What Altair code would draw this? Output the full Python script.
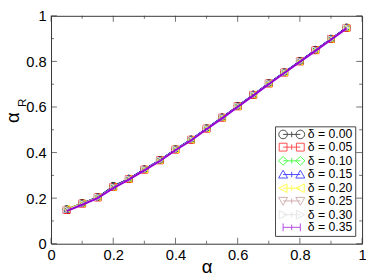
import altair as alt
import pandas as pd

# ---------------- data ----------------
alpha = [0.05, 0.10, 0.15, 0.20, 0.25, 0.30, 0.35, 0.40, 0.45, 0.50,
         0.55, 0.60, 0.65, 0.70, 0.75, 0.80, 0.85, 0.90, 0.95]

series_labels = ["δ = 0.00", "δ = 0.05", "δ = 0.10", "δ = 0.15",
                 "δ = 0.20", "δ = 0.25", "δ = 0.30", "δ = 0.35"]

ar_000 = [0.152, 0.179, 0.205, 0.254, 0.286, 0.327, 0.368, 0.415, 0.458, 0.507,
          0.555, 0.605, 0.655, 0.705, 0.753, 0.802, 0.851, 0.900, 0.949]
ar_005 = [0.148, 0.176, 0.203, 0.249, 0.284, 0.325, 0.366, 0.413, 0.456, 0.505,
          0.553, 0.603, 0.653, 0.703, 0.751, 0.800, 0.849, 0.898, 0.947]
ar_010 = [0.150, 0.177, 0.204, 0.250, 0.285, 0.326, 0.367, 0.414, 0.457, 0.506,
          0.554, 0.604, 0.654, 0.704, 0.752, 0.801, 0.850, 0.899, 0.948]
ar_015 = [0.151, 0.178, 0.206, 0.251, 0.287, 0.328, 0.369, 0.416, 0.459, 0.508,
          0.556, 0.606, 0.656, 0.706, 0.754, 0.803, 0.852, 0.901, 0.950]
ar_020 = [0.153, 0.177, 0.204, 0.248, 0.284, 0.325, 0.366, 0.413, 0.456, 0.505,
          0.553, 0.603, 0.653, 0.703, 0.751, 0.800, 0.849, 0.898, 0.947]
ar_025 = [0.147, 0.174, 0.202, 0.247, 0.283, 0.324, 0.365, 0.412, 0.455, 0.504,
          0.552, 0.602, 0.652, 0.702, 0.750, 0.799, 0.848, 0.897, 0.946]
ar_030 = [0.149, 0.176, 0.203, 0.249, 0.284, 0.325, 0.366, 0.413, 0.456, 0.505,
          0.553, 0.603, 0.653, 0.703, 0.751, 0.800, 0.849, 0.898, 0.947]
ar_035 = [0.143, 0.171, 0.200, 0.244, 0.281, 0.322, 0.363, 0.410, 0.453, 0.502,
          0.550, 0.600, 0.650, 0.700, 0.749, 0.798, 0.846, 0.895, 0.945]

series_values = [ar_000, ar_005, ar_010, ar_015, ar_020, ar_025, ar_030, ar_035]

axis_values = [0, 0.2, 0.4, 0.6, 0.8, 1]
minor_values = [0.1, 0.3, 0.5, 0.7, 0.9]

# ---------------- style ----------------
colors = ["#000000", "#ff0000", "#00ff00", "#0000ff",
          "#ffff00", "#bc8f8f", "#dcdcdc", "#9400d3"]
shapes = ["circle", "square", "diamond", "triangle-up",
          "triangle-left", "triangle-down", "triangle-right", "bar"]
FONT = "Liberation Sans"
FRAME = "#333333"
W, H = 318, 233


def marker_path(kind, cx):
    r = 1.1
    if kind == "circle":
        return (f"M{cx - r},0A{r},{r},0,1,0,{cx + r},0"
                f"A{r},{r},0,1,0,{cx - r},0Z")
    if kind == "square":
        return f"M{cx - 1},-1H{cx + 1}V1H{cx - 1}Z"
    if kind == "diamond":
        return f"M{cx - 1.2},0L{cx},-1.1L{cx + 1.2},0L{cx},1.1Z"
    if kind == "triangle-up":
        return f"M{cx - 1.15},0.9L{cx},-1.1L{cx + 1.15},0.9Z"
    if kind == "triangle-down":
        return f"M{cx - 1.15},-0.9L{cx},1.1L{cx + 1.15},-0.9Z"
    if kind == "triangle-left":
        return f"M{cx - 1.1},0L{cx + 1},-1.1L{cx + 1},1.1Z"
    if kind == "triangle-right":
        return f"M{cx + 1.1},0L{cx - 1},-1.1L{cx - 1},1.1Z"
    return f"M{cx},-1V1"


def legend_path(kind):
    gap = 4.4
    body = f"M0,0H{gap}M{gap / 2},-0.7V0.7"
    return marker_path(kind, 0) + marker_path(kind, gap) + body


legend_paths = [legend_path(k) for k in shapes]

rows = []
for lab, vals, col, shp in zip(series_labels, series_values, colors, shapes):
    for a, v in zip(alpha, vals):
        rows.append({"series": lab, "alpha": a, "alpha_R": v, "col": col, "shp": shp})
df = pd.DataFrame(rows)
df_marked = df[df["shp"] != "bar"]
df_others = df[df["series"] != series_labels[-1]]
df_last = df[df["series"] == series_labels[-1]]

xscale = alt.Scale(domain=[0, 1], nice=False, zero=False)
yscale = alt.Scale(domain=[0, 1], nice=False, zero=False)

xaxis = alt.Axis(values=axis_values, format="~g", ticks=False, tickSize=0,
                 domain=False, grid=False, labelFont=FONT, labelFontSize=15,
                 labelColor="black", labelPadding=4, labelFlush=False,
                 title="α", titleFont=FONT, titleFontSize=19,
                 titleFontWeight="normal", titleColor="black",
                 titleY=29, titleBaseline="alphabetic")
yaxis = alt.Axis(values=axis_values, format="~g", ticks=False, tickSize=0,
                 domain=False, grid=False, labelFont=FONT, labelFontSize=15,
                 labelColor="black", labelPadding=5, labelFlush=False,
                 title="α", titleFont=FONT, titleFontSize=19,
                 titleFontWeight="normal", titleColor="black",
                 titleAngle=270, titleX=-33, titleY=103.5,
                 titleAlign="center", titleBaseline="alphabetic")

X = alt.X("alpha:Q", scale=xscale, axis=xaxis)
Y = alt.Y("alpha_R:Q", scale=yscale, axis=yaxis)

lines_others = alt.Chart(df_others).mark_line(strokeWidth=1).encode(
    x=X, y=Y, detail="series:N",
    color=alt.Color("col:N", scale=None),
)

points = alt.Chart(df_marked).mark_point(filled=False, size=50, strokeWidth=1, opacity=1).encode(
    x=X, y=Y,
    color=alt.Color("col:N", scale=None),
    shape=alt.Shape("shp:N", scale=None),
)

line_last = alt.Chart(df_last).mark_line(strokeWidth=2, color=colors[-1]).encode(x=X, y=Y)

legend = alt.Legend(
    orient="none", legendX=229, legendY=113, title=None, padding=2,
    strokeColor="#444444", fillColor="white", labelFont=FONT, labelFontSize=12.5,
    labelColor="black", labelOffset=19, symbolSize=64, symbolStrokeWidth=1,
    rowPadding=0, labelExpr="datum.label + '\u00a0\u00a0\u00a0'",
)
carrier = alt.Chart(df).mark_point(filled=False).encode(
    x=X, y=Y,
    color=alt.Color("series:N", scale=alt.Scale(domain=series_labels, range=colors), legend=legend),
    shape=alt.Shape("series:N", scale=alt.Scale(domain=series_labels, range=legend_paths), legend=legend),
).transform_filter("datum.alpha < 0")

# inward axis ticks (major and minor) on all four sides
tick_layers = []
for vals, L in [(axis_values, 6), (minor_values, 3)]:
    tx = pd.DataFrame({"alpha": vals})
    ty = pd.DataFrame({"alpha_R": vals})
    tick_layers.append(alt.Chart(tx).mark_tick(orient="vertical", size=L, thickness=1,
                                               color=FRAME, yOffset=-L / 2).encode(
        x=X, y=alt.YDatum(0, type="quantitative", scale=yscale, axis=yaxis)))
    tick_layers.append(alt.Chart(tx).mark_tick(orient="vertical", size=L, thickness=1,
                                               color=FRAME, yOffset=L / 2).encode(
        x=X, y=alt.YDatum(1, type="quantitative", scale=yscale, axis=yaxis)))
    tick_layers.append(alt.Chart(ty).mark_tick(orient="horizontal", size=L, thickness=1,
                                               color=FRAME, xOffset=L / 2).encode(
        y=Y, x=alt.XDatum(0, type="quantitative", scale=xscale, axis=xaxis)))
    tick_layers.append(alt.Chart(ty).mark_tick(orient="horizontal", size=L, thickness=1,
                                               color=FRAME, xOffset=-L / 2).encode(
        y=Y, x=alt.XDatum(1, type="quantitative", scale=xscale, axis=xaxis)))

sub_r = alt.Chart(alt.Data(values=[{"t": "R"}])).mark_text(
    font=FONT, fontSize=12, angle=270, align="center", baseline="alphabetic", color="black"
).encode(text="t:N", x=alt.value(-25.5), y=alt.value(89))

chart = alt.layer(
    lines_others, points, line_last, *tick_layers, carrier, sub_r
).resolve_scale(
    color="independent", shape="independent"
).properties(
    width=W, height=H,
    autosize=alt.AutoSizeParams(type="none"),
    padding={"left": 44, "top": 5, "right": 4, "bottom": 30},
).configure_view(stroke=FRAME, strokeWidth=1)

chart.save("out.html", embed_options={"renderer": "svg", "actions": False})
